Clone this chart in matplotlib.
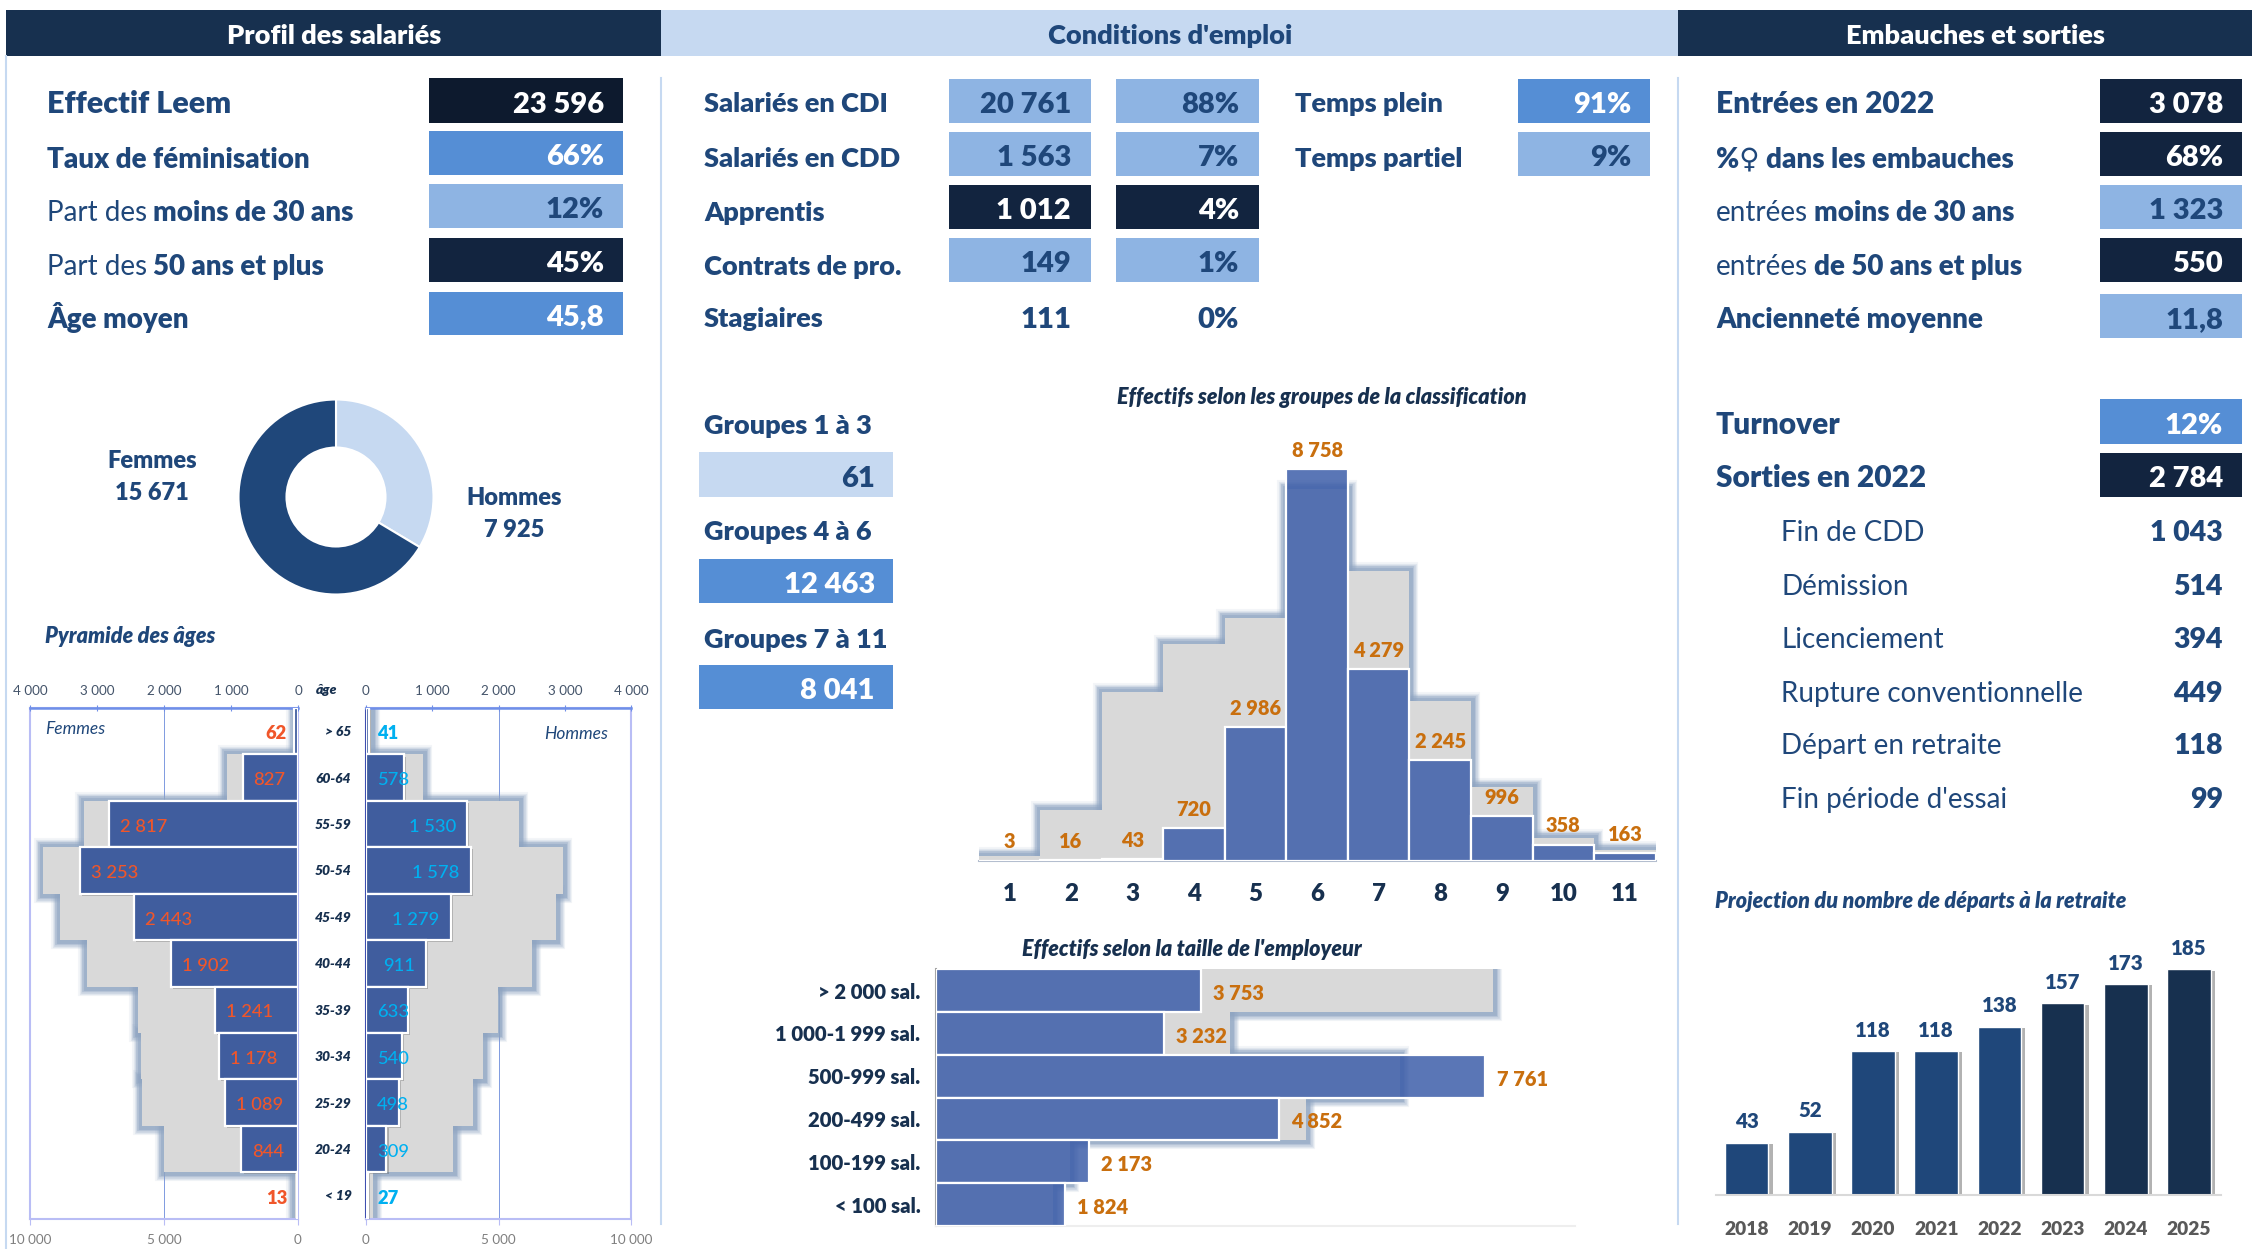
#!/usr/bin/env python3
"""Tableau de bord social Leem: KPI, donut, pyramide des ages, histogrammes."""

import matplotlib

matplotlib.use("Agg")
import matplotlib.pyplot as plt
import matplotlib.patheffects as pe
from matplotlib.patches import Rectangle

W, H = 2252, 1249
plt.rcParams["font.family"] = ["Lato", "DejaVu Sans"]

NAVY = "#17304F"
BLUE = "#1F477A"
MID = "#558ED5"
LIGHT = "#8EB4E3"
PALE = "#C6D9F1"
INK = "#12243F"
GREY = "#D9D9D9"
GLOW = "#8FA5C2"
BAR_RGBA = (0.239, 0.369, 0.663, 0.85)
ORANGE = "#C96F0E"
BOLD = 800

# Profil des salaries
PROFILE_LABELS = [
    [("Effectif Leem", BOLD)],
    [("Taux de féminisation", BOLD)],
    [("Part des", "normal"), ("moins de 30 ans", BOLD)],
    [("Part des", "normal"), ("50 ans et plus", BOLD)],
    [("Âge moyen", BOLD)],
]
PROFILE_VALUES = ["23 596", "66%", "12%", "45%", "45,8"]
PROFILE_FILLS = ["#0D1A2E", MID, LIGHT, INK, MID]
PROFILE_TEXT = ["white", "white", BLUE, "white", "white"]

# Donut
GENDER_LABELS = ["Hommes", "Femmes"]
GENDER_VALUES = [7925, 15671]

# Pyramide
AGES = ["> 65", "60-64", "55-59", "50-54", "45-49", "40-44", "35-39", "30-34", "25-29", "20-24", "< 19"]
WOMEN = [62, 827, 2817, 3253, 2443, 1902, 1241, 1178, 1089, 844, 13]
MEN = [41, 578, 1530, 1578, 1279, 911, 633, 540, 498, 309, 27]
WOMEN_BG = [100, 2650, 7970, 9520, 8890, 7860, 5980, 5870, 5830, 5000, 130]
MEN_BG = [190, 2160, 5790, 7450, 7160, 6270, 4980, 4420, 4020, 3290, 260]

# Conditions d'emploi
CONTRACTS = ["Salariés en CDI", "Salariés en CDD", "Apprentis", "Contrats de pro.", "Stagiaires"]
CONTRACT_COUNTS = ["20 761", "1 563", "1 012", "149", "111"]
CONTRACT_SHARES = ["88%", "7%", "4%", "1%", "0%"]
CONTRACT_FILLS = [LIGHT, LIGHT, INK, LIGHT, None]
CONTRACT_TEXT = [BLUE, BLUE, "white", BLUE, BLUE]
TIME_LABELS = ["Temps plein", "Temps partiel"]
TIME_VALUES = ["91%", "9%"]
TIME_FILLS = [MID, LIGHT]
TIME_TEXT = ["white", BLUE]
GROUP_LABELS = ["Groupes 1 à 3", "Groupes 4 à 6", "Groupes 7 à 11"]
GROUP_VALUES = ["61", "12 463", "8 041"]
GROUP_FILLS = [PALE, MID, MID]
GROUP_TEXT = [BLUE, "white", "white"]

# Classification
CLASSES = ["1", "2", "3", "4", "5", "6", "7", "8", "9", "10", "11"]
CLASS_VALUES = [3, 16, 43, 720, 2986, 8758, 4279, 2245, 996, 358, 163]
CLASS_BG = [115, 1131, 3771, 4833, 5426, 8312, 6465, 3579, 1655, 516, 231]

# Taille de l'employeur
SIZES = ["> 2 000 sal.", "1 000-1 999 sal.", "500-999 sal.", "200-499 sal.", "100-199 sal.", "< 100 sal."]
SIZE_VALUES = [3753, 3232, 7761, 4852, 2173, 1824]
SIZE_BG = [7876, 4160, 6560, 5233, 1900, 1654]

# Embauches et sorties
HIRE_LABELS = [
    [("Entrées en 2022", BOLD)],
    [("%♀ dans les embauches", BOLD)],
    [("entrées", "normal"), ("moins de 30 ans", BOLD)],
    [("entrées", "normal"), ("de 50 ans et plus", BOLD)],
    [("Ancienneté moyenne", BOLD)],
]
HIRE_VALUES = ["3 078", "68%", "1 323", "550", "11,8"]
HIRE_FILLS = [INK, INK, LIGHT, INK, LIGHT]
HIRE_TEXT = ["white", "white", BLUE, "white", BLUE]
EXIT_LABELS = ["Turnover", "Sorties en 2022"]
EXIT_VALUES = ["12%", "2 784"]
EXIT_FILLS = [MID, INK]
REASONS = ["Fin de CDD", "Démission", "Licenciement", "Rupture conventionnelle", "Départ en retraite", "Fin période d'essai"]
REASON_VALUES = ["1 043", "514", "394", "449", "118", "99"]

# Retraite
YEARS = ["2018", "2019", "2020", "2021", "2022", "2023", "2024", "2025"]
RETIREMENTS = [43, 52, 118, 118, 138, 157, 173, 185]
RETIREMENT_COLORS = [BLUE] * 5 + [NAVY] * 3


def fmt(v):
    return f"{v:,}".replace(",", " ")


fig = plt.figure(figsize=(W / 100, H / 100), dpi=100, facecolor="white")
ov = fig.add_axes([0, 0, 1, 1])
ov.set_xlim(0, W)
ov.set_ylim(H, 0)
ov.axis("off")
renderer = fig.canvas.get_renderer()


def px_axes(x0, y0, x1, y1):
    ax = fig.add_axes([x0 / W, 1 - y1 / H, (x1 - x0) / W, (y1 - y0) / H])
    ax.patch.set_alpha(0)
    return ax


def box(x0, y0, x1, y1, color):
    ov.add_patch(Rectangle((x0, y0), x1 - x0, y1 - y0, fc=color, ec="none"))


def label(x, yc, parts, size, color=BLUE):
    """Texte sur une ligne, gras et normal melanges."""
    base = yc + 0.36 * size / 0.72
    for txt, weight in parts:
        t = ov.text(x, base, txt, fontsize=size, fontweight=weight, color=color, va="baseline")
        x += t.get_window_extent(renderer).width + 0.3 * size


def value(x, yc, txt, size, color, weight=BOLD):
    base = yc + 1.5 + 0.36 * size / 0.72
    ov.text(x, base, txt, fontsize=size, fontweight=weight, color=color, ha="right", va="baseline")


def glow_bars(ax, pos, vals, horizontal=False):
    draw = ax.barh if horizontal else ax.bar
    for lw, a in [(13, 0.1), (11, 0.18), (9, 0.28), (7, 0.4), (5, 0.5)]:
        draw(pos, vals, 1.0, color="none", edgecolor=GLOW, linewidth=lw, alpha=a, zorder=1, joinstyle="miter")
    draw(pos, vals, 1.0, color=GREY, linewidth=0, zorder=2)


# Bandeaux
box(6, 10, 661, 56, NAVY)
box(661, 10, 1678, 56, PALE)
box(1678, 10, W, 56, NAVY)
for x, txt, col in [(334, "Profil des salariés", "white"), (1170, "Conditions d'emploi", BLUE),
                    (1975, "Embauches et sorties", "white")]:
    ov.text(x, 35.5, txt, color=col, fontsize=19.5, fontweight=BOLD, ha="center", va="center")
ov.plot([6, 6], [56, H], color=PALE, lw=1.5)
ov.plot([661, 661], [78, 1224], color=PALE, lw=1.5)
ov.plot([1678, 1678], [78, 1224], color=PALE, lw=1.5)

# Colonne gauche
ROW_Y = [(78, 123), (131, 175), (184, 228), (238, 282), (292, 335)]
LABEL_Y = [102, 157.5, 211, 265, 317.5]
LABEL_SIZES = [22, 20, 20, 20, 20]
for i, (y0, y1) in enumerate(ROW_Y):
    box(429, y0, 623, y1, PROFILE_FILLS[i])
    value(604, (y0 + y1) / 2, PROFILE_VALUES[i], 21, PROFILE_TEXT[i])
    label(47, LABEL_Y[i], PROFILE_LABELS[i], LABEL_SIZES[i])

# Donut
ax = px_axes(336 - 100, 497 - 100, 336 + 100, 497 + 100)
ax.pie(GENDER_VALUES, colors=[PALE, BLUE], startangle=90, counterclock=False, radius=0.975,
       wedgeprops={"width": 0.48, "edgecolor": "white", "linewidth": 1.5})
ax.set_xlim(-1, 1)
ax.set_ylim(-1, 1)
for x, y, txt in [(152, 461, GENDER_LABELS[1]), (152, 493, fmt(GENDER_VALUES[1])),
                  (514, 498, GENDER_LABELS[0]), (514, 530, fmt(GENDER_VALUES[0]))]:
    ov.text(x, y, txt, color=BLUE, fontsize=17, fontweight=BOLD, ha="center", va="center")

# Pyramide
ov.text(45, 636, "Pyramide des âges", color=BLUE, fontsize=15.5, fontweight=BOLD, style="italic", va="center")
AXIS_TOP = "#6F8FE8"
AXIS_SOFT = "#B9BDF5"
for side, vals, bg, x0, x1, txt_color in [
    ("L", WOMEN, WOMEN_BG, 30, 298, "#F0562A"),
    ("R", MEN, MEN_BG, 366, 631, "#00B0F0"),
]:
    back = px_axes(x0, 708, x1, 1218.6)
    pos = list(range(len(AGES)))
    glow_bars(back, pos, bg, horizontal=True)
    back.set_ylim(len(AGES) - 0.5, -0.5)
    back.set_xlim(*((10000, 0) if side == "L" else (0, 10000)))
    back.set_xticks([0, 5000, 10000], [fmt(v) for v in (0, 5000, 10000)])
    back.tick_params(axis="x", length=4, color=AXIS_SOFT, labelcolor="#7F7F7F", labelsize=9.7, pad=7)
    back.set_yticks([])
    back.grid(axis="x", color="#7E9AE0", lw=0.7, zorder=0)
    back.set_axisbelow(True)
    for s in back.spines.values():
        s.set_color(AXIS_SOFT)
        s.set_linewidth(1.5)
    if side == "R":
        back.spines["left"].set_color("#3F4FB0")

    front = back.twiny()
    front.patch.set_alpha(0)
    front.barh(pos, vals, 1.0, color="#405D9E", edgecolor="white", linewidth=1.6, zorder=3,
               path_effects=[pe.SimplePatchShadow(offset=(1.5, -1.5), shadow_rgbFace="#555555", alpha=0.35), pe.Normal()])
    front.set_xlim(*((4000, 0) if side == "L" else (0, 4000)))
    front.set_ylim(len(AGES) - 0.5, -0.5)
    front.set_xticks([0, 1000, 2000, 3000, 4000], [fmt(v) for v in (0, 1000, 2000, 3000, 4000)])
    front.tick_params(axis="x", length=4, direction="inout", color=AXIS_TOP, labelcolor="#44546A", labelsize=9.7, pad=6)
    front.spines["top"].set_color(AXIS_TOP)
    front.spines["top"].set_linewidth(1.8)
    for name in ("left", "right", "bottom"):
        front.spines[name].set_visible(False)

    for p, v in zip(pos, vals):
        if side == "L":
            if v < 100:
                xy, off, ha = (0, p), -11, "right"
            else:
                xy, off, ha = (v, p), 11, "left"
        else:
            if v < 700:
                xy, off, ha = (0, p), 11, "left"
            else:
                xy, off, ha = (v, p), -11, "right"
        front.annotate(fmt(v), xy, xytext=(off * 0.72, -2), textcoords="offset points", ha=ha, va="center",
                       color=txt_color, fontsize=13.2, fontweight=BOLD if v < 100 else 500, zorder=5)

ov.text(45, 729, "Femmes", color=BLUE, fontsize=12.5, style="italic", va="center", zorder=6)
ov.text(576, 734, "Hommes", color=BLUE, fontsize=12.5, style="italic", ha="center", va="center", zorder=6)
ov.text(326.5, 690, "âge", color=NAVY, fontsize=10, fontweight=BOLD, style="italic", ha="center", va="center")
row_h = (1218.6 - 708) / len(AGES)
for i, a in enumerate(AGES):
    x = 338 if a[0] in "<>" else 333
    ov.text(x, 708 + row_h * (i + 0.5) + 1, a, color=NAVY, fontsize=10, fontweight=BOLD, style="italic",
            ha="center", va="center")

# Conditions d'emploi
MID_Y = [(79, 123), (132, 176), (185, 229), (238, 282), (294, 338)]
for i, (y0, y1) in enumerate(MID_Y):
    yc = (y0 + y1) / 2
    if CONTRACT_FILLS[i]:
        box(949, y0, 1091, y1, CONTRACT_FILLS[i])
        box(1116, y0, 1259, y1, CONTRACT_FILLS[i])
    value(1071, yc, CONTRACT_COUNTS[i], 21, CONTRACT_TEXT[i])
    value(1239, yc, CONTRACT_SHARES[i], 21, CONTRACT_TEXT[i])
    label(704, LABEL_Y[i], [(CONTRACTS[i], BOLD)], 19.5)
for i in range(2):
    y0, y1 = MID_Y[i]
    box(1518, y0, 1650, y1, TIME_FILLS[i])
    value(1631, (y0 + y1) / 2, TIME_VALUES[i], 21, TIME_TEXT[i])
    label(1295, LABEL_Y[i], [(TIME_LABELS[i], BOLD)], 19.5)

GROUP_Y = [(452, 497), (559, 603), (665, 709)]
GROUP_LABEL_Y = [424, 530, 638]
for i, (y0, y1) in enumerate(GROUP_Y):
    box(699, y0, 893, y1, GROUP_FILLS[i])
    value(875, (y0 + y1) / 2, GROUP_VALUES[i], 21, GROUP_TEXT[i])
    label(704, GROUP_LABEL_Y[i], [(GROUP_LABELS[i], BOLD)], 19.5)

# Histogramme classification
ov.text(1322, 397, "Effectifs selon les groupes de la classification", color=NAVY, fontsize=15.5,
        fontweight=BOLD, style="italic", ha="center", va="center")
ax = px_axes(978.5, 458, 1655.7, 860.7)
pos = list(range(1, len(CLASSES) + 1))
glow_bars(ax, pos, CLASS_BG)
ax.bar(pos, CLASS_VALUES, 1.0, color=BAR_RGBA, edgecolor="white", linewidth=1.6, zorder=3)
ax.set_xlim(0.5, len(CLASSES) + 0.5)
ax.set_ylim(0, 9000)
ax.set_xticks(pos, CLASSES)
ax.tick_params(axis="x", length=0, pad=16, labelsize=17.3, labelcolor=NAVY)
for t in ax.get_xticklabels():
    t.set_fontweight(BOLD)
ax.set_yticks([])
for name in ("left", "right", "top"):
    ax.spines[name].set_visible(False)
ax.spines["bottom"].set_color("#B4BECF")
ax.spines["bottom"].set_linewidth(1.5)
for p, v in zip(pos, CLASS_VALUES):
    ax.annotate(fmt(v), (p, v), xytext=(0, 13.5), textcoords="offset points", ha="center", va="center",
                color=ORANGE, fontsize=14.4, fontweight=BOLD, zorder=5, annotation_clip=False)

# Taille de l'employeur
ov.text(1192, 949, "Effectifs selon la taille de l'employeur", color=NAVY, fontsize=15.5,
        fontweight=BOLD, style="italic", ha="center", va="center")
ax = px_axes(935.6, 969.3, 1574.6, 1226)
pos = list(range(len(SIZES)))
glow_bars(ax, pos, SIZE_BG, horizontal=True)
ax.barh(pos, SIZE_VALUES, 1.0, color=BAR_RGBA, edgecolor="white", linewidth=1.6, zorder=3)
ax.set_xlim(0, 9032)
ax.set_ylim(len(SIZES) - 0.5, -0.5)
ax.set_yticks(pos, SIZES)
ax.tick_params(axis="y", length=0, pad=11, labelsize=14.6, labelcolor=NAVY)
for t in ax.get_yticklabels():
    t.set_fontweight(BOLD)
ax.set_xticks([])
ax.spines["top"].set_visible(False)
ax.spines["right"].set_visible(False)
ax.spines["left"].set_color("#A6A6A6")
ax.spines["left"].set_linewidth(1.5)
ax.spines["bottom"].set_color("#EEEEEE")
ax.spines["bottom"].set_linewidth(1.5)
for p, v in zip(pos, SIZE_VALUES):
    ax.annotate(fmt(v), (v, p), xytext=(8.6, -2), textcoords="offset points", ha="left", va="center",
                color=ORANGE, fontsize=14.4, fontweight=BOLD, zorder=5)

# Embauches et sorties
HIRE_SIZES = [21.5, 20, 20, 20, 20]
for i, (y0, y1) in enumerate(MID_Y):
    yc = (y0 + y1) / 2
    box(2100, y0, 2242, y1, HIRE_FILLS[i])
    value(2223, yc, HIRE_VALUES[i], 21, HIRE_TEXT[i])
    label(1716, LABEL_Y[i], HIRE_LABELS[i], HIRE_SIZES[i])
EXIT_Y = [(399, 444), (453, 497)]
for i, (y0, y1) in enumerate(EXIT_Y):
    box(2100, y0, 2242, y1, EXIT_FILLS[i])
    value(2223, (y0 + y1) / 2, EXIT_VALUES[i], 21, "white")
    label(1716, (y0 + y1) / 2 + 1.5, [(EXIT_LABELS[i], BOLD)], 21.5)
REASON_Y = [531, 585, 638, 692, 744, 798]
for y, lab, v in zip(REASON_Y, REASONS, REASON_VALUES):
    label(1781, y, [(lab, "normal")], 20)
    value(2223, y - 2, v, 20.5, BLUE)

# Retraite
ov.text(1715, 901, "Projection du nombre de départs à la retraite", color=BLUE, fontsize=15.5,
        fontweight=BOLD, style="italic", va="center")
ax = px_axes(1715.8, 951, 2220.7, 1195)
pos = list(range(len(YEARS)))
ax.bar(pos, RETIREMENTS, 0.69, color=RETIREMENT_COLORS, edgecolor="white", linewidth=1,
       path_effects=[pe.SimplePatchShadow(offset=(3, -1), shadow_rgbFace="#555555", alpha=0.45), pe.Normal()])
ax.set_xlim(-0.487, 7.5)
ax.set_ylim(0, 200)
ax.set_xticks(pos, YEARS)
ax.tick_params(axis="x", length=0, pad=19, labelsize=13.8, labelcolor="#595959")
for t in ax.get_xticklabels():
    t.set_fontweight(BOLD)
ax.set_yticks([])
for name in ("left", "right", "top"):
    ax.spines[name].set_visible(False)
ax.spines["bottom"].set_color("#D9D9D9")
ax.spines["bottom"].set_linewidth(1.5)
for p, v in zip(pos, RETIREMENTS):
    ax.annotate(str(v), (p, v), xytext=(0, 15), textcoords="offset points", ha="center", va="center",
                color=BLUE, fontsize=14.8, fontweight=BOLD)

fig.savefig("out.png", dpi=100)
